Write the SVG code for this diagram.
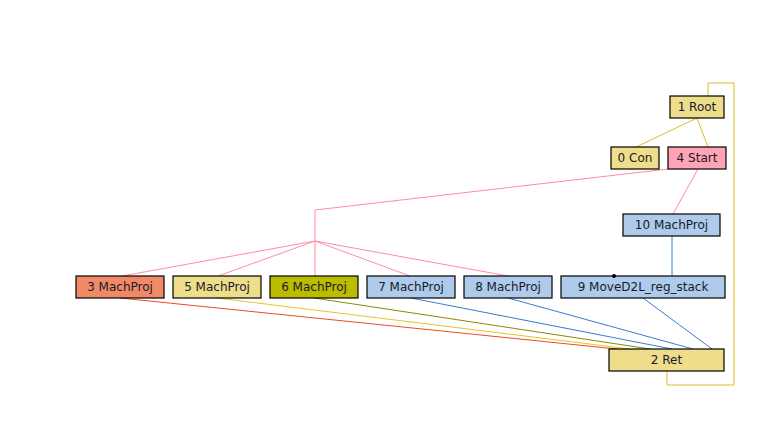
<svg xmlns="http://www.w3.org/2000/svg" width="774" height="425" viewBox="0 0 774 425">
<style>
.n rect{stroke:#000;stroke-width:1.2}
.n text{font-family:"DejaVu Sans",sans-serif;font-size:12px;fill:#1a1a2a;text-anchor:middle}
.e{fill:none;stroke-width:1}
.y{stroke:#e2bb22}
.p{stroke:#ff8ca4}
.b{stroke:#3a7bd0}
.r{stroke:#ee4a22}
.o{stroke:#8a8a00}
.yl{stroke:#e6c42a}
.kh{fill:#eedd8a}
.bl{fill:#aecbeb}
</style>
<rect width="774" height="425" fill="#fff"/>
<g id="edges">
<path class="e y" d="M708,96 V83 H734 V385 H667 V371"/>
<path class="e y" d="M697,118 L636,147"/>
<path class="e y" d="M697,118 L708,147"/>
<path class="e p" d="M668,169 L315,210 V241"/>
<path class="e p" d="M698,169 L673,214"/>
<path class="e p" d="M315,241 L122,276"/>
<path class="e p" d="M315,241 L218,276"/>
<path class="e p" d="M315,241 L315,276"/>
<path class="e p" d="M315,241 L410,276"/>
<path class="e p" d="M315,241 L508,276"/>
<path class="e b" d="M672,236 V276"/>
<path class="e r" d="M120,298 L617,349"/>
<path class="e yl" d="M217,298 L630,349"/>
<path class="e o" d="M314,298 L650,349"/>
<path class="e b" d="M411,298 L672,349"/>
<path class="e b" d="M508,298 L693,349"/>
<path class="e b" d="M643,298 L712,349"/>
</g>
<g id="n1" class="n"><rect class="kh" x="670" y="96" width="54" height="22"/><text x="697" y="111">1 Root</text></g>
<g id="n0" class="n"><rect class="kh" x="611" y="147" width="48" height="22"/><text x="635" y="162">0 Con</text></g>
<g id="n4" class="n"><rect x="668" y="147" width="58" height="22" fill="#ffa3b6"/><text x="697" y="162">4 Start</text></g>
<g id="n10" class="n"><rect class="bl" x="623" y="214" width="97" height="22"/><text x="671.5" y="229">10 MachProj</text></g>
<g id="n3" class="n"><rect x="76" y="276" width="88" height="22" fill="#f08a66"/><text x="120" y="291">3 MachProj</text></g>
<g id="n5" class="n"><rect class="kh" x="173" y="276" width="88" height="22"/><text x="217" y="291">5 MachProj</text></g>
<g id="n6" class="n"><rect x="270" y="276" width="88" height="22" fill="#bbbb00"/><text x="314" y="291">6 MachProj</text></g>
<g id="n7" class="n"><rect class="bl" x="367" y="276" width="88" height="22"/><text x="411" y="291">7 MachProj</text></g>
<g id="n8" class="n"><rect class="bl" x="464" y="276" width="88" height="22"/><text x="508" y="291">8 MachProj</text></g>
<g id="n9" class="n"><rect class="bl" x="561" y="276" width="164" height="22"/><text x="643" y="291">9 MoveD2L_reg_stack</text><circle cx="614" cy="276" r="2" fill="#000"/></g>
<g id="n2" class="n"><rect class="kh" x="609" y="349" width="115" height="22"/><text x="666.5" y="364">2 Ret</text></g>
</svg>
